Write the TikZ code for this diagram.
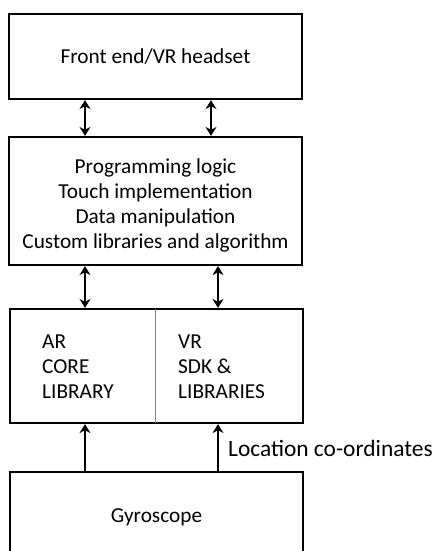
\documentclass[tikz,border=0pt]{standalone}
\usepackage{fontspec}
\setmainfont{Carlito}
\usetikzlibrary{arrows.meta}
\begin{document}
\begin{tikzpicture}[x=1pt,y=-1pt,
  blk/.style={draw,line width=2.2pt},
  txt/.style={font=\fontsize{21.3}{25}\selectfont,inner sep=0pt},
  conn/.style={line width=2.2pt,-{Stealth[length=9pt,width=11pt]}},
  both/.style={line width=2.2pt,{Stealth[length=9pt,width=11pt]}-{Stealth[length=9pt,width=11pt]}}]
\useasboundingbox (0,0) rectangle (437,551);
\draw[blk] (9,14) rectangle (302,99);
\node[txt] (fet) at (155.5,57) {Front end/VR headset};
\draw[blk] (9,137) rectangle (302,265);
\node[txt,align=center] (pl) at (155.5,205) {Programming logic\\Touch implementation\\Data manipulation\\Custom libraries and algorithm};
\draw[blk] (10,309) rectangle (303,423);
\draw[gray,line width=1pt] (155,309) -- (155,423);
\node[txt,align=left,anchor=west] (ar) at (42,367) {AR\\CORE\\LIBRARY};
\node[txt,align=left,anchor=west] (vr) at (178,367) {VR\\SDK \&\\LIBRARIES};
\draw[blk] (10,472) rectangle (303,560);
\node[txt] (gy) at (156.5,517) {Gyroscope};
\coordinate (a1t) at (85,99); \coordinate (a1b) at (85,137);
\coordinate (a2t) at (211,99); \coordinate (a2b) at (211,137);
\coordinate (b1t) at (85,265); \coordinate (b1b) at (85,309);
\coordinate (b2t) at (218,265); \coordinate (b2b) at (218,309);
\coordinate (c1t) at (85,423); \coordinate (c1b) at (85,472);
\coordinate (c2t) at (218,423); \coordinate (c2b) at (218,472);
\draw[both,shorten <=1.1pt,shorten >=1.1pt] (a1t) -- (a1b);
\draw[both,shorten <=1.1pt,shorten >=1.1pt] (a2t) -- (a2b);
\draw[both,shorten <=1.1pt,shorten >=1.1pt] (b1t) -- (b1b);
\draw[both,shorten <=1.1pt,shorten >=1.1pt] (b2t) -- (b2b);
\draw[conn,shorten >=1.1pt] (c1b) -- (c1t);
\draw[conn,shorten >=1.1pt] (c2b) -- (c2t);
\node[txt,anchor=west,font=\fontsize{23.4}{28}\selectfont] (loc) at (228,448) {Location co-ordinates};
\end{tikzpicture}
\end{document}
